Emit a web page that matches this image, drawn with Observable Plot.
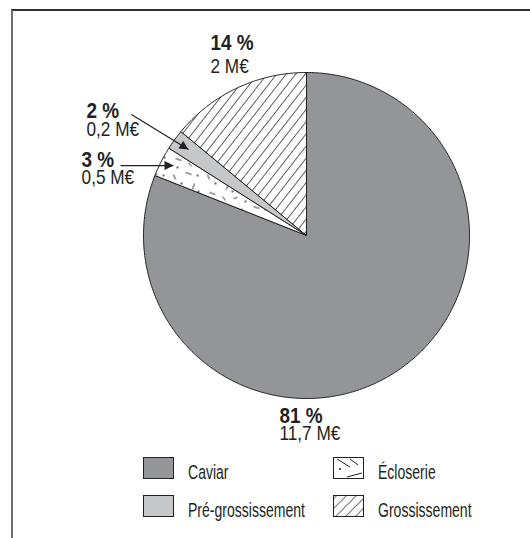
<!DOCTYPE html>
<html><head><meta charset="utf-8">
<script src="https://cdn.jsdelivr.net/npm/d3@7"></script>
<script src="https://cdn.jsdelivr.net/npm/@observablehq/plot@0.6"></script>
<style>
html,body{margin:0;padding:0;background:#fff}
body{width:530px;height:538px;overflow:hidden;position:relative;
 font-family:"Liberation Sans",Arial,sans-serif;color:#231f20}
#frame{position:absolute;left:11px;top:9px;width:560px;height:580px;border-top:2px solid #2e2e2e;border-left:2px solid #6e6e6e;box-sizing:border-box}
#chart{position:absolute;left:0;top:0}
#legend{position:absolute;left:0;top:0}
</style></head>
<body>
<div id="frame"></div>
<div id="chart"></div>
<svg id="legend" width="530" height="538"></svg>
<script>
// ---- data ----
const categories = ["Caviar", "Écloserie", "Pré-grossissement", "Grossissement"];
const percents = [81, 3, 2, 14];
const percentLabels = ["81 %", "3 %", "2 %", "14 %"];
const amountLabels = ["11,7 M€", "0,5 M€", "0,2 M€", "2 M€"];
const fills = ["#939598", "url(#eclo)", "#c6c7c9", "url(#hatch)"];
// label anchors (pie units, radius = 1)
const labelX = [-0.166, -1.38, -1.35, -0.589];
const pctY = [-1.110, 0.466, 0.767, 1.184];
const amtY = [-1.215, 0.360, 0.650, 1.037];
// leader arrows (pie units) for the two thin slices
const arrowCats = ["Écloserie", "Pré-grossissement"];
const arrowX1 = [-1.141, -1.074];
const arrowY1 = [0.429, 0.742];
const arrowX2 = [-0.816, -0.724];
const arrowY2 = [0.429, 0.528];
// legend
const legendCats = ["Caviar", "Pré-grossissement", "Écloserie", "Grossissement"];

// ---- slice outlines from d3.pie ----
const arcs = d3.pie().sort(null).value(d => d)(percents);
const pts = [];
arcs.forEach((a, i) => {
  const cat = categories[i];
  pts.push({cat, x: 0, y: 0});
  const n = Math.max(4, Math.ceil((a.endAngle - a.startAngle) / 0.01));
  for (let k = 0; k <= n; k++) {
    const t = a.startAngle + (a.endAngle - a.startAngle) * k / n;
    pts.push({cat, x: Math.sin(t), y: Math.cos(t)});
  }
  pts.push({cat, x: 0, y: 0});
});
const labels = categories.map((c, i) => ({cat: c, x: labelX[i], pct: percentLabels[i], amt: amountLabels[i], py: pctY[i], ay: amtY[i]}));
const arrows = arrowCats.map((c, i) => ({cat: c, x1: arrowX1[i], y1: arrowY1[i], x2: arrowX2[i], y2: arrowY2[i]}));

const font = '"Liberation Sans",Arial,sans-serif';
const plot = Plot.plot({
  width: 530, height: 450,
  style: {background: "transparent", overflow: "visible"},
  x: {domain: [-1, 1], range: [143, 469], axis: null},
  y: {domain: [-1, 1], range: [398, 72], axis: null},
  color: {type: "ordinal", domain: categories, range: fills},
  marks: [
    Plot.line(pts, {x: "x", y: "y", z: "cat", fill: "cat", stroke: "#231f20", strokeWidth: 1, strokeLinejoin: "round", curve: "linear"}),
    Plot.link(arrows, {x1: "x1", y1: "y1", x2: "x2", y2: "y2", stroke: "#231f20", strokeWidth: 1.2}),
    Plot.text(labels, {x: "x", y: "py", text: "pct", textAnchor: "start", fontSize: 22, fontWeight: "bold", fontFamily: font, fill: "#231f20", className: "pctlab"}),
    Plot.text(labels, {x: "x", y: "ay", text: "amt", textAnchor: "start", fontSize: 21, fontFamily: font, fill: "#231f20", className: "amtlab"})
  ]
});
document.getElementById("chart").appendChild(plot);

// condensed look: horizontal squeeze of each label around its anchor
function squeeze(sel, k) {
  sel.each(function() {
    const x = +this.getAttribute("x") || 0;
    const tr = this.getAttribute("transform") || "";
    this.setAttribute("transform", `${tr} translate(${x},0) scale(${k},1) translate(${-x},0)`);
  });
}

// patterns + arrowhead
const svg = d3.select(plot);
squeeze(svg.selectAll("g.pctlab text"), 0.86);
squeeze(svg.selectAll("g.amtlab text"), 0.82);
const defs = svg.insert("defs", ":first-child");
const h = defs.append("pattern").attr("id", "hatch").attr("patternUnits", "userSpaceOnUse")
  .attr("width", 7.5).attr("height", 7.5).attr("patternTransform", "rotate(38)");
h.append("rect").attr("width", 7.5).attr("height", 7.5).attr("fill", "#fff");
h.append("line").attr("x1", 0).attr("y1", 0).attr("x2", 0).attr("y2", 7.5).attr("stroke", "#231f20").attr("stroke-width", 1.4);
const e = defs.append("pattern").attr("id", "eclo").attr("patternUnits", "userSpaceOnUse").attr("width", 34).attr("height", 34);
e.append("rect").attr("width", 34).attr("height", 34).attr("fill", "#fff");
e.append("path").attr("d", "M3,4 l2,5 M15,2 l6,2 M24,13 l-2,6 M5,22 l6,2 M18,26 l3,4 M29,28 l4,-1")
  .attr("stroke", "#231f20").attr("stroke-width", 0.9).attr("fill", "none");
[[11,13],[27,5],[28,21],[7,31]].forEach(([cx, cy]) => e.append("circle").attr("cx", cx).attr("cy", cy).attr("r", 0.9).attr("fill", "#231f20"));
defs.append("marker").attr("id", "ah").attr("viewBox", "0 0 10 10").attr("refX", 10).attr("refY", 5)
  .attr("markerUnits", "userSpaceOnUse").attr("markerWidth", 13).attr("markerHeight", 9).attr("orient", "auto")
  .append("path").attr("d", "M0,0 L10,5 L0,10 z").attr("fill", "#231f20");
svg.selectAll('g[aria-label="link"] path').attr("marker-end", "url(#ah)");

// legend
const lg = d3.select("#legend");
const ldefs = lg.append("defs");
const lh = ldefs.append("pattern").attr("id", "lhatch").attr("patternUnits", "userSpaceOnUse")
  .attr("width", 7).attr("height", 7).attr("patternTransform", "rotate(45)");
lh.append("rect").attr("width", 7).attr("height", 7).attr("fill", "#fff");
lh.append("line").attr("x1", 0).attr("y1", 0).attr("x2", 0).attr("y2", 7).attr("stroke", "#231f20").attr("stroke-width", 1.2);
const pos = [[143, 457], [143, 495], [333, 457], [333, 495]];
legendCats.forEach((c, i) => {
  const [x, y] = pos[i];
  const idx = categories.indexOf(c);
  let f = fills[idx];
  if (c === "Grossissement") f = "url(#lhatch)";
  if (c === "Écloserie") f = "#fff";
  lg.append("rect").attr("x", x + 0.5).attr("y", y + 0.5).attr("width", 30).attr("height", 21)
    .attr("fill", f).attr("stroke", "#231f20").attr("stroke-width", 1);
  if (c === "Écloserie") {
    lg.append("path").attr("d", `M${x+4},${y+2} L${x+17},${y+10} M${x+17},${y+2} L${x+25},${y+8} M${x+14},${y+20} L${x+29},${y+16}`)
      .attr("stroke", "#231f20").attr("stroke-width", 1).attr("fill", "none");
    lg.append("circle").attr("cx", x + 7).attr("cy", y + 12).attr("r", 1).attr("fill", "#231f20");
  }
  const tx = x + 45;
  lg.append("text").attr("x", tx).attr("y", y + 22).text(c)
    .attr("font-size", 19.5).attr("font-family", font).attr("fill", "#231f20")
    .attr("transform", `translate(${tx},0) scale(0.72,1) translate(${-tx},0)`);
});
</script>
</body></html>
